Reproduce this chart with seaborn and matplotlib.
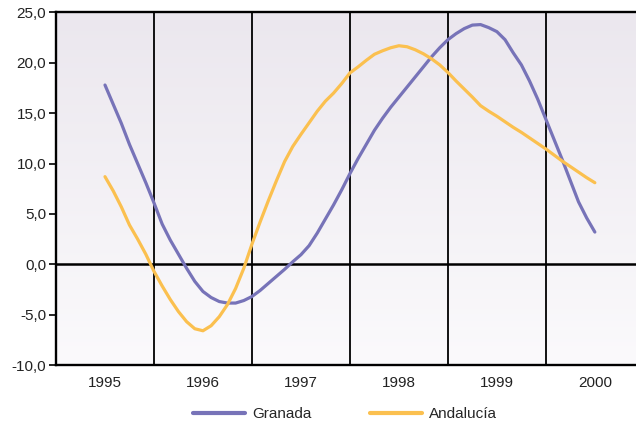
import numpy as np
import pandas as pd
import matplotlib
matplotlib.use("Agg")
import matplotlib.pyplot as plt
from matplotlib.colors import LinearSegmentedColormap
from matplotlib.lines import Line2D
import seaborn as sns

# ---- data (monthly, Jan 1995 .. Jan 2000) ----
months = list(range(61))
granada = [17.8, 15.9, 14.0, 11.9, 10.0, 8.1, 6.1, 4.0, 2.4, 1.0,
           -0.4, -1.7, -2.7, -3.3, -3.7, -3.85, -3.85, -3.6, -3.2, -2.6,
           -1.9, -1.2, -0.5, 0.25, 0.95, 1.85, 3.1, 4.5, 5.9, 7.4,
           9.0, 10.5, 11.9, 13.3, 14.5, 15.6, 16.6, 17.6, 18.6, 19.6,
           20.6, 21.5, 22.3, 22.9, 23.4, 23.75, 23.8, 23.5, 23.1, 22.3,
           21.0, 19.8, 18.2, 16.4, 14.4, 12.4, 10.4, 8.3, 6.2, 4.6,
           3.2]
andalucia = [8.7, 7.3, 5.7, 3.9, 2.5, 1.0, -0.7, -2.15, -3.5, -4.7,
             -5.7, -6.4, -6.6, -6.1, -5.2, -4.0, -2.4, -0.4, 2.0, 4.2,
             6.3, 8.3, 10.2, 11.7, 12.9, 14.05, 15.2, 16.2, 17.0, 17.95,
             19.0, 19.6, 20.25, 20.85, 21.2, 21.5, 21.7, 21.6, 21.3, 20.9,
             20.4, 19.8, 19.05, 18.2, 17.4, 16.6, 15.75, 15.2, 14.7, 14.15,
             13.6, 13.1, 12.55, 12.0, 11.45, 10.85, 10.25, 9.7, 9.15, 8.6,
             8.1]
years = [1995, 1996, 1997, 1998, 1999, 2000]
yticks = [-10, -5, 0, 5, 10, 15, 20, 25]
series_names = ["Granada", "Andalucía"]
colors = ["#7773b8", "#fbc04f"]

t = [1995 + m / 12 for m in months]
df = pd.DataFrame({
    "t": t * 2,
    "valor": granada + andalucia,
    "serie": [series_names[0]] * len(t) + [series_names[1]] * len(t),
})

sns.set_theme(style="white")
plt.rcParams["font.family"] = ["Liberation Sans", "DejaVu Sans"]

fig = plt.figure(figsize=(6.36, 4.23), dpi=100)
ax = fig.add_axes([56 / 636, 1 - 365 / 423, 1 - 56 / 636, (365 - 12.5) / 423])

x0, x1 = 1994.5, 2000.42
y0, y1 = -10, 25

# gradient background
cmap = LinearSegmentedColormap.from_list("bg", ["#fbfafc", "#ebe7ee"])
ax.imshow(np.linspace(0, 1, 256).reshape(-1, 1), extent=[x0, x1, y0, y1],
          origin="lower", aspect="auto", cmap=cmap, zorder=0)

sns.lineplot(data=df, x="t", y="valor", hue="serie", palette=colors,
             linewidth=2.3, ax=ax, legend=False, zorder=3)

ax.set_xlim(x0, x1)
ax.set_ylim(y0, y1)

# vertical separators between years
for yr in years[:-1]:
    ax.axvline(yr + 0.5, color="black", lw=1.3, zorder=2)
ax.axhline(0, color="black", lw=1.8, zorder=2)

ax.set_xticks(years)
ax.set_xticklabels([str(y) for y in years])
ax.set_yticks(yticks)
ax.set_yticklabels([f"{v:.1f}".replace(".", ",") for v in yticks])
ax.tick_params(axis="x", length=0, pad=8, labelsize=11, colors="#222222")
ax.tick_params(axis="y", length=5, width=1.2, pad=2, labelsize=11,
               colors="black", labelcolor="#222222", left=True)
ax.set_xlabel("")
ax.set_ylabel("")

for side in ["left", "bottom", "top"]:
    ax.spines[side].set_visible(True)
    ax.spines[side].set_color("black")
    ax.spines[side].set_linewidth(1.7)
ax.spines["right"].set_visible(False)
ax.grid(False)

handles = [Line2D([0], [0], color=c, lw=3) for c in colors]
fig.legend(handles, series_names, loc="center", bbox_to_anchor=(345 / 636, 1 - 414 / 423),
           ncol=2, frameon=False, fontsize=11, handlelength=3.4,
           handletextpad=0.5, columnspacing=3.8)

fig.savefig("out.png", dpi=100)
